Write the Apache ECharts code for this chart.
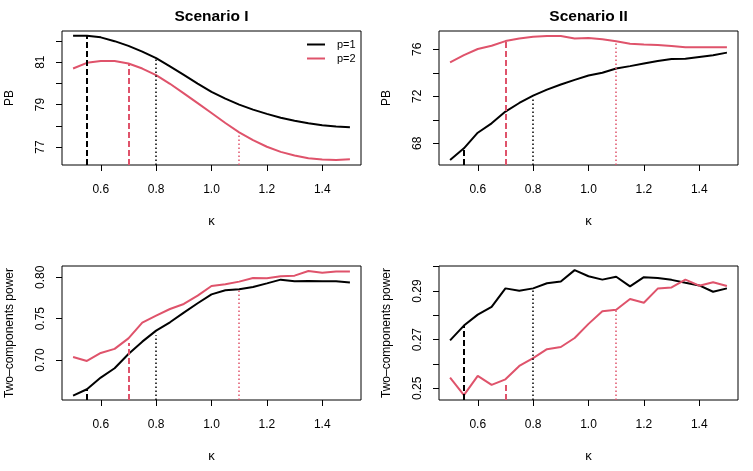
<!DOCTYPE html>
<html>
<head>
<meta charset="utf-8">
<script src="https://cdn.jsdelivr.net/npm/echarts@6/dist/echarts.min.js"></script>
<style>
  html, body { margin: 0; padding: 0; background: #fff; }
  #chart { width: 753px; height: 471px; }
</style>
</head>
<body>
<div id="chart"></div>
<script>
// kappa grid shared by all four panels
const kappa = [0.5, 0.55, 0.6, 0.65, 0.7, 0.75, 0.8, 0.85, 0.9, 0.95, 1.0,
               1.05, 1.1, 1.15, 1.2, 1.25, 1.3, 1.35, 1.4, 1.45, 1.5];

// Scenario I, PB
const pbI_p1 = [82.25, 82.25, 82.17, 81.99, 81.77, 81.50, 81.19, 80.80, 80.40, 79.99, 79.60,
                79.28, 79.00, 78.76, 78.56, 78.38, 78.24, 78.12, 78.03, 77.97, 77.93];
const pbI_p2 = [80.70, 80.97, 81.05, 81.05, 80.94, 80.70, 80.39, 79.98, 79.53, 79.07, 78.60,
                78.13, 77.69, 77.32, 77.01, 76.77, 76.60, 76.47, 76.41, 76.39, 76.42];
// Scenario II, PB
const pbII_p1 = [66.58, 67.57, 68.90, 69.70, 70.70, 71.43, 72.06, 72.57, 73.00, 73.40, 73.77,
                 74.00, 74.37, 74.57, 74.80, 75.00, 75.17, 75.20, 75.35, 75.50, 75.72];
const pbII_p2 = [74.89, 75.51, 76.03, 76.30, 76.70, 76.93, 77.07, 77.13, 77.13, 76.93, 76.96,
                 76.85, 76.68, 76.48, 76.42, 76.37, 76.28, 76.17, 76.17, 76.17, 76.17];
// Scenario I, two-components power
const powI_p1 = [0.657, 0.6646, 0.6787, 0.690, 0.7073, 0.7222, 0.7355, 0.7456, 0.7573, 0.7686, 0.7794,
                 0.7843, 0.7855, 0.7883, 0.7927, 0.7972, 0.7952, 0.7956, 0.7952, 0.7952, 0.7936];
const powI_p2 = [0.7037, 0.6988, 0.7085, 0.7134, 0.7262, 0.7452, 0.7537, 0.7617, 0.7678, 0.7778, 0.7895,
                 0.7915, 0.7948, 0.7992, 0.7988, 0.8012, 0.8020, 0.8077, 0.8056, 0.8069, 0.8069];
// Scenario II, two-components power
const powII_p1 = [0.2697, 0.2758, 0.2803, 0.2835, 0.2911, 0.2901, 0.2911, 0.2932, 0.2939, 0.2986, 0.2961,
                  0.2947, 0.2959, 0.2919, 0.2957, 0.2954, 0.2946, 0.2934, 0.2923, 0.2897, 0.2911];
const powII_p2 = [0.2544, 0.2472, 0.2551, 0.2514, 0.2537, 0.2592, 0.2624, 0.2661, 0.2670, 0.2707, 0.2765,
                  0.2817, 0.2823, 0.2867, 0.2852, 0.2910, 0.2915, 0.2947, 0.2922, 0.2936, 0.2921];

// vertical reference segments: kappa, which p, line type, and height in each panel
const markKappa = [0.55, 0.7, 0.8, 1.1];
const markP = ['p=1', 'p=2', 'p=1', 'p=2'];
const markType = ['dashed', 'dashed', 'dotted', 'dotted'];
const pbI_marks = [82.25, 80.94, 81.19, 77.69];
const pbII_marks = [67.57, 76.70, 71.80, 76.68];
const powI_marks = [0.6646, 0.7206, 0.7300, 0.7855];
const powII_marks = [0.2758, 0.2522, 0.2911, 0.2823];

// axis ticks / labels
const xTicks = [0.6, 0.8, 1.0, 1.2, 1.4];
const pbI_ticks = [77, 78, 79, 80, 81, 82];
const pbI_labels = [77, 79, 81];
const pbII_ticks = [68, 70, 72, 74, 76];
const pbII_labels = [68, 72, 76];
const powI_ticks = [0.70, 0.75, 0.80];
const powI_labels = [0.70, 0.75, 0.80];
const powII_ticks = [0.25, 0.26, 0.27, 0.28, 0.29, 0.30];
const powII_labels = [0.25, 0.27, 0.29];

const BLACK = '#000000';
const RED = '#DF536B';
const FONT = 'Liberation Sans, Arial, sans-serif';

const panels = [
  { left: 62, top: 31, title: 'Scenario I', yName: 'PB', min: 76.15, max: 82.47,
    ticks: pbI_ticks, labels: pbI_labels, dec: 0, p1: pbI_p1, p2: pbI_p2, marks: pbI_marks },
  { left: 439, top: 31, title: 'Scenario II', yName: 'PB', min: 66.15, max: 77.56,
    ticks: pbII_ticks, labels: pbII_labels, dec: 0, p1: pbII_p1, p2: pbII_p2, marks: pbII_marks },
  { left: 62, top: 266, title: '', yName: 'Two\u2013components power', min: 0.6516, max: 0.8137,
    ticks: powI_ticks, labels: powI_labels, dec: 2, p1: powI_p1, p2: powI_p2, marks: powI_marks },
  { left: 439, top: 266, title: '', yName: 'Two\u2013components power', min: 0.2452, max: 0.3003,
    ticks: powII_ticks, labels: powII_labels, dec: 2, p1: powII_p1, p2: powII_p2, marks: powII_marks }
];

const grid = [], xAxis = [], yAxis = [], series = [], title = [];

panels.forEach((p, i) => {
  grid.push({ left: p.left, top: p.top, width: 299, height: 134,
              show: true, borderColor: BLACK, borderWidth: 1, backgroundColor: 'transparent' });
  xAxis.push({
    type: 'value', gridIndex: i, min: 0.46, max: 1.54,
    name: '\u03ba', nameLocation: 'middle', nameGap: 50,
    nameTextStyle: { fontSize: 13, color: BLACK, fontFamily: FONT },
    axisLine: { show: false },
    axisTick: { show: true, inside: false, length: 6, customValues: xTicks,
                lineStyle: { color: BLACK, width: 1 } },
    axisLabel: { customValues: xTicks, formatter: v => v.toFixed(1), margin: 19,
                 fontSize: 12, color: BLACK, fontFamily: FONT },
    splitLine: { show: false }
  });
  yAxis.push({
    type: 'value', gridIndex: i, min: p.min, max: p.max,
    name: p.yName, nameLocation: 'middle', nameGap: 46, nameRotate: 90,
    nameTextStyle: { fontSize: 12, color: BLACK, fontFamily: FONT },
    axisLine: { show: false },
    axisTick: { show: true, inside: false, length: 6, customValues: p.ticks,
                lineStyle: { color: BLACK, width: 1 } },
    axisLabel: { customValues: p.labels, rotate: 90, margin: 15,
                 formatter: v => v.toFixed(p.dec), fontSize: 12, color: BLACK, fontFamily: FONT },
    splitLine: { show: false }
  });
  if (p.title) {
    title.push({ text: p.title, left: p.left + 149.5, top: 9, textAlign: 'center', padding: 0,
                 textStyle: { fontSize: 15.5, fontWeight: 'bold', color: BLACK, fontFamily: FONT } });
  }
  const segs = markKappa.map((k, j) => {
    const col = markP[j] === 'p=1' ? BLACK : RED;
    const dashed = markType[j] === 'dashed';
    return [
      { coord: [k, p.min],
        lineStyle: { color: col, width: dashed ? 2 : 1.5, type: dashed ? [6, 3] : [1.5, 2.5] } },
      { coord: [k, p.marks[j]] }
    ];
  });
  series.push({
    name: 'p=1', type: 'line', xAxisIndex: i, yAxisIndex: i,
    data: kappa.map((k, j) => [k, p.p1[j]]),
    showSymbol: false, symbol: 'none', lineStyle: { color: BLACK, width: 2 }, itemStyle: { color: BLACK },
    silent: true, z: 3,
    markLine: { silent: true, symbol: ['none', 'none'], label: { show: false },
                animation: false, data: segs }
  });
  series.push({
    name: 'p=2', type: 'line', xAxisIndex: i, yAxisIndex: i,
    data: kappa.map((k, j) => [k, p.p2[j]]),
    showSymbol: false, symbol: 'none', lineStyle: { color: RED, width: 2 }, itemStyle: { color: RED },
    silent: true, z: 3
  });
});

const chart = echarts.init(document.getElementById('chart'));
chart.setOption({
  backgroundColor: '#fff',
  animation: false,
  title: title,
  legend: {
    data: ['p=1', 'p=2'], orient: 'vertical', left: 302, top: 34,
    icon: 'rect', itemWidth: 18, itemHeight: 2, itemGap: 3,
    textStyle: { fontSize: 11, color: BLACK, fontFamily: FONT, padding: [0, 0, 0, 7] }
  },
  grid: grid,
  xAxis: xAxis,
  yAxis: yAxis,
  series: series
});
</script>
</body>
</html>
